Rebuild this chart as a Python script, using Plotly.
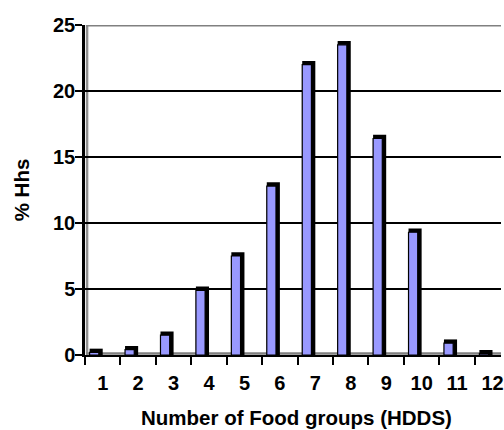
import plotly.graph_objects as go

categories = ["1", "2", "3", "4", "5", "6", "7", "8", "9", "10", "11", "12"]
values = [0.2, 0.4, 1.5, 4.9, 7.5, 12.8, 22.0, 23.5, 16.4, 9.3, 0.9, 0.1]
y_ticks = [0, 5, 10, 15, 20, 25]
x_title = "Number of Food groups (HDDS)"
y_title = "% Hhs"

FONT = "Liberation Sans, Arial, sans-serif"
cap = 0.28  # top bevel height in data units

fig = go.Figure()
# dark side / top of 3D bars
fig.add_trace(go.Bar(
    x=categories, y=[v + cap for v in values],
    offset=-0.37, width=0.37,
    marker=dict(color="#000000", line=dict(width=0)),
    hoverinfo="skip", showlegend=False,
))
# front face
fig.add_trace(go.Bar(
    x=categories, y=values,
    offset=-0.37, width=0.26,
    marker=dict(color="#9999FF", line=dict(color="#000000", width=1.2)),
    showlegend=False,
))

fig.update_layout(
    width=504, height=430,
    margin=dict(l=85, r=0, t=25, b=75),
    paper_bgcolor="white", plot_bgcolor="white",
    barmode="overlay",
    font=dict(family=FONT, size=18, color="black"),
    xaxis=dict(
        type="category", range=[-0.5, 11.24],
        showline=True, linecolor="black", linewidth=2,
        ticks="outside", tickson="boundaries", ticklen=8, tickwidth=2, tickcolor="black",
        showgrid=False, zeroline=False,
        tickfont=dict(family=FONT, size=20, color="black", weight="bold"),
        ticklabelstandoff=9,
    ),
    yaxis=dict(
        range=[0, 25], tickvals=y_ticks,
        showline=True, linecolor="black", linewidth=2.5,
        ticks="outside", ticklen=7, tickwidth=2, tickcolor="black",
        showgrid=True, gridcolor="black", gridwidth=1.8,
        zeroline=False,
        tickfont=dict(family=FONT, size=20, color="black", weight="bold"),
        ticklabelstandoff=-4,
    ),
    shapes=[
        # gray back wall top edge
        dict(type="line", xref="x domain", yref="y", x0=0.003, x1=1, y0=25, y1=25,
             line=dict(color="#808080", width=3), layer="above"),
        # gray wall left edge
        dict(type="line", xref="x domain", yref="y", x0=0.005, x1=0.005, y0=0, y1=25,
             line=dict(color="#909090", width=2.5), layer="below"),
        # gray floor
        dict(type="line", xref="x domain", yref="y", x0=0.003, x1=1, y0=0.12, y1=0.12,
             line=dict(color="#808080", width=2.5), layer="below"),
    ],
    annotations=[
        dict(text=x_title, xref="paper", yref="paper", x=0.5095, y=-0.148,
             xanchor="center", yanchor="top", showarrow=False,
             font=dict(family=FONT, size=20.5, color="black", weight="bold")),
        dict(text=y_title, xref="paper", yref="paper", x=-0.153, y=0.5,
             xanchor="center", yanchor="middle", textangle=-90, showarrow=False,
             font=dict(family=FONT, size=20.5, color="black", weight="bold")),
    ],
)

fig.write_html(
    "out.html",
    config={"displayModeBar": False},
    post_script="document.body.style.margin='0';document.body.style.overflow='hidden';",
)
